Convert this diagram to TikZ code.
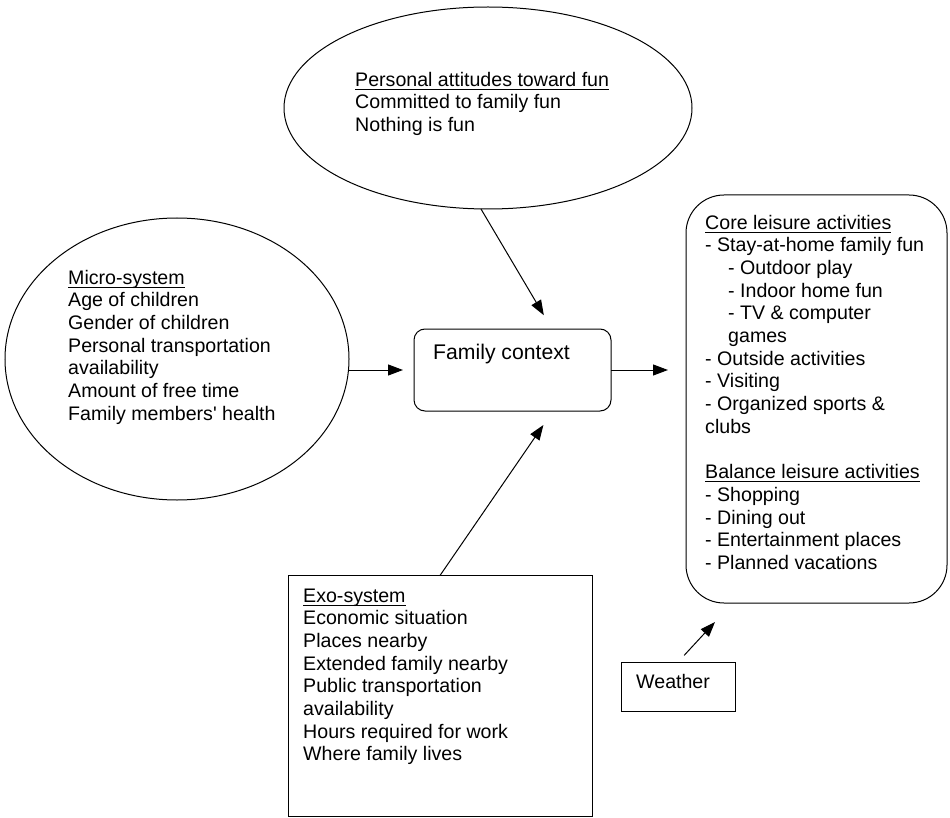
\documentclass[tikz,border=0pt]{standalone}
\usepackage{fontspec}
\setmainfont{Liberation Sans}
\usetikzlibrary{shapes.geometric,arrows.meta,calc}
\newsavebox\hdrbox
\newcommand{\hdr}[1]{\sbox\hdrbox{#1}\rlap{\rule[-3.5pt]{\wd\hdrbox}{0.9pt}}\usebox\hdrbox}
\newcommand{\fs}{\fontsize{19.6}{22.7}\selectfont}
\begin{document}
\begin{tikzpicture}[x=1pt,y=-1pt,
  box/.style={draw, line width=1pt, inner sep=0pt, outer sep=0pt},
  txt/.style={anchor=north west, inner sep=0pt, align=left, font=\fs},
  lbl/.style={anchor=base west, inner sep=0pt, font=\fs},
  arr/.style={-{Triangle[length=15pt,width=11pt]}, line width=1pt}]
\useasboundingbox (0,0) rectangle (950,818);

% personal attitudes
\node[box, ellipse, minimum width=408pt, minimum height=202pt] (att) at (488,108) {};
\node[txt] (atttext) at (355,70) {\strut\hdr{Personal attitudes toward fun}\\Committed to family fun\\Nothing is fun};

% micro-system
\node[box, ellipse, minimum width=344pt, minimum height=282pt] (micro) at (177,359) {};
\node[txt] (microtext) at (68,268) {\strut\hdr{Micro-system}\\Age of children\\Gender of children\\Personal transportation\\availability\\Amount of free time\\Family members\textquotesingle\ health};

% family context
\node[box, rounded corners=11pt, minimum width=197pt, minimum height=82pt] (fam) at (512.5,370) {};
\node[anchor=base west, inner sep=0pt, font=\fontsize{21.2}{25}\selectfont] (famtext) at (433,359.6) {Family context};

% core / balance leisure
\node[box, rounded corners=38pt, minimum width=261pt, minimum height=408pt] (core) at (816.5,399) {};
\node[txt] (coretext) at (705,213) {\strut\hdr{Core leisure activities}\\
- Stay-at-home family fun\\
\hspace*{23pt}- Outdoor play\\
\hspace*{23pt}- Indoor home fun\\
\hspace*{23pt}- TV \& computer\\
\hspace*{23pt}games\\
- Outside activities\\
- Visiting\\
- Organized sports \&\\
clubs\\
\strut\\
\hdr{Balance leisure activities}\\
- Shopping\\
- Dining out\\
- Entertainment places\\
- Planned vacations};

% exo-system
\node[box, minimum width=304pt, minimum height=241pt] (exo) at (440,696) {};
\node[txt] (exotext) at (303,586) {\strut\hdr{Exo-system}\\Economic situation\\Places nearby\\Extended family nearby\\Public transportation\\availability\\Hours required for work\\Where family lives};

% weather
\node[box, minimum width=114pt, minimum height=49pt] (weather) at (678,686.5) {};
\node[lbl] (weathertext) at (636,688) {Weather};
\coordinate (wtip) at (715,622);

% connectors
\draw[arr, shorten >=11pt] (micro.east |- fam.center) -- (fam.west);
\draw[arr, shorten >=18pt] (fam.east) -- (core.west |- fam.east);
\draw[arr, shorten >=16pt] (att.-94) -- ($(fam.north west)+(138,0)$);
\draw[arr, shorten >=17pt] (exo.north) -- ($(fam.south west)+(139,0)$);
\draw[arr, shorten <=9pt] (weather.north) -- (wtip);
\end{tikzpicture}
\end{document}
